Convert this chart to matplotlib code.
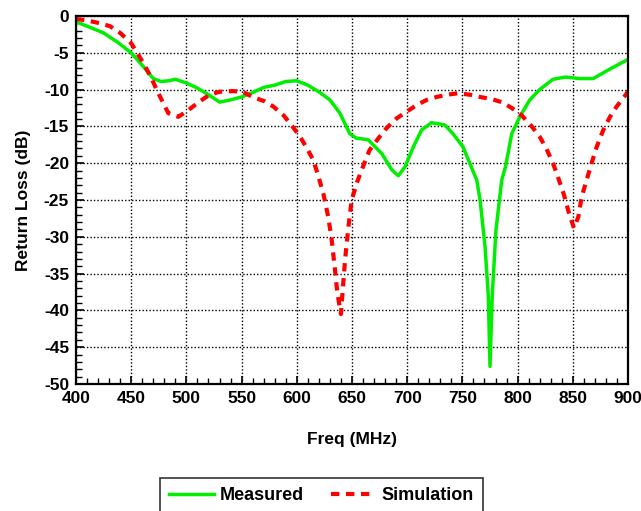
import matplotlib
matplotlib.use("Agg")
import matplotlib.pyplot as plt
from matplotlib.ticker import MultipleLocator

plt.rcParams['font.family'] = ['Liberation Sans', 'DejaVu Sans']
plt.rcParams['font.weight'] = 'bold'
plt.rcParams['axes.unicode_minus'] = False

meas_f = [400, 412, 425, 438, 450, 460, 470, 477, 484, 490, 500, 510, 520, 530, 540, 550, 560,
          570, 580, 590, 600, 610, 620, 630, 639, 648, 654, 664.5, 677, 686, 692, 698, 705.5,
          713, 722, 734, 741.5, 750.6, 758, 763, 766, 770.5, 773.5, 775, 777, 780.4, 785.6,
          789, 794.7, 802, 811, 820, 832, 843, 856.5, 868.5, 883.7, 900]
meas_db = [-0.8, -1.5, -2.3, -3.6, -5.0, -6.7, -8.5, -8.9, -8.8, -8.6, -9.1, -9.8, -10.7, -11.7,
           -11.4, -11.0, -10.4, -9.7, -9.4, -8.9, -8.8, -9.4, -10.3, -11.4, -13.2, -16.0, -16.6,
           -16.8, -18.7, -20.9, -21.7, -20.5, -17.8, -15.5, -14.5, -14.8, -16.0, -17.8, -20.5,
           -22.3, -25.0, -31.3, -38.1, -47.6, -38.1, -29.1, -22.3, -20.5, -16.0, -13.7, -11.4,
           -10.0, -8.6, -8.3, -8.5, -8.5, -7.2, -5.9]

sim_f = [400, 410, 422, 431, 440, 450, 461, 468.5, 473, 477.6, 483.6, 492.7, 501.7, 512, 521,
         530, 542, 551, 560, 571, 578.7, 588, 595, 603, 610, 615, 619, 624, 628.5, 631.6, 634.6,
         636.7, 640, 641.6, 644, 646.8, 649.7, 654.8, 658.8, 666, 674, 681.5, 690.5, 699.5,
         708.6, 717.7, 726.7, 735.8, 746, 756.9, 766, 776.5, 785.6, 794.7, 803.7, 812.8, 820,
         826, 832, 835, 838.4, 842, 846, 851, 855, 858, 862.5, 867, 871.6, 877.6, 883.7, 889.7,
         898, 900]
sim_db = [-0.4, -0.6, -1.0, -1.4, -2.3, -3.7, -6.4, -8.5, -10.0, -11.4, -13.2, -13.7, -12.8,
          -11.6, -10.7, -10.3, -10.2, -10.3, -11.0, -11.6, -12.3, -13.5, -14.8, -16.4, -18.2,
          -19.6, -21.5, -24.1, -27.3, -30.4, -34.5, -37.6, -40.5, -37.2, -32.7, -28.6, -25.0,
          -22.5, -20.9, -18.2, -16.6, -15.2, -13.9, -13.0, -12.1, -11.4, -11.0, -10.7, -10.5,
          -10.7, -11.0, -11.3, -11.7, -12.5, -13.5, -15.0, -16.4, -18.0, -20.0, -21.2, -22.7,
          -24.3, -26.5, -28.8, -27.3, -24.6, -22.3, -20.0, -17.8, -15.5, -13.7, -12.3, -10.7,
          -10.2]

x_ticks = list(range(400, 901, 50))
y_ticks = list(range(-50, 1, 5))

fig = plt.figure(figsize=(6.41, 5.11), dpi=100)
ax = fig.add_axes([76/641, 1-384/511, (628-76)/641, (384-16)/511])

l1, = ax.plot(meas_f, meas_db, color='#00ee00', lw=2.5, label='Measured')
l2, = ax.plot(sim_f, sim_db, color='#ff0000', lw=3, ls=(0, (2.0, 1.6)), label='Simulation')

ax.set_xlim(400, 900)
ax.set_ylim(-50, 0)
ax.set_xticks(x_ticks)
ax.set_yticks(y_ticks)
ax.xaxis.set_minor_locator(MultipleLocator(10))
ax.yaxis.set_minor_locator(MultipleLocator(1))
ax.tick_params(which='major', direction='in', length=6, width=1.2, labelsize=12.5, pad=5)
ax.tick_params(which='minor', direction='in', length=4, width=1)
for lab in ax.get_xticklabels() + ax.get_yticklabels():
    lab.set_fontweight('bold')
ax.grid(True, which='major', color='black', ls=(0, (1, 1.5)), lw=1)
for s in ax.spines.values():
    s.set_linewidth(1.6)

ax.set_xlabel('Freq (MHz)', fontsize=12.5, fontweight='bold', labelpad=19)
ax.set_ylabel('Return Loss (dB)', fontsize=12.5, fontweight='bold', labelpad=9)

leg = fig.legend(handles=[l1, l2], loc='upper center', bbox_to_anchor=(321.5/641, 1-478/511),
                 ncol=2, fontsize=13, frameon=True, fancybox=False, edgecolor='black',
                 handlelength=2.5, handletextpad=0.34, columnspacing=1.45, borderpad=0.5,
                 borderaxespad=0)
leg.get_frame().set_linewidth(1.2)
for t in leg.get_texts():
    t.set_fontweight('bold')

fig.savefig('out.png', dpi=100)
